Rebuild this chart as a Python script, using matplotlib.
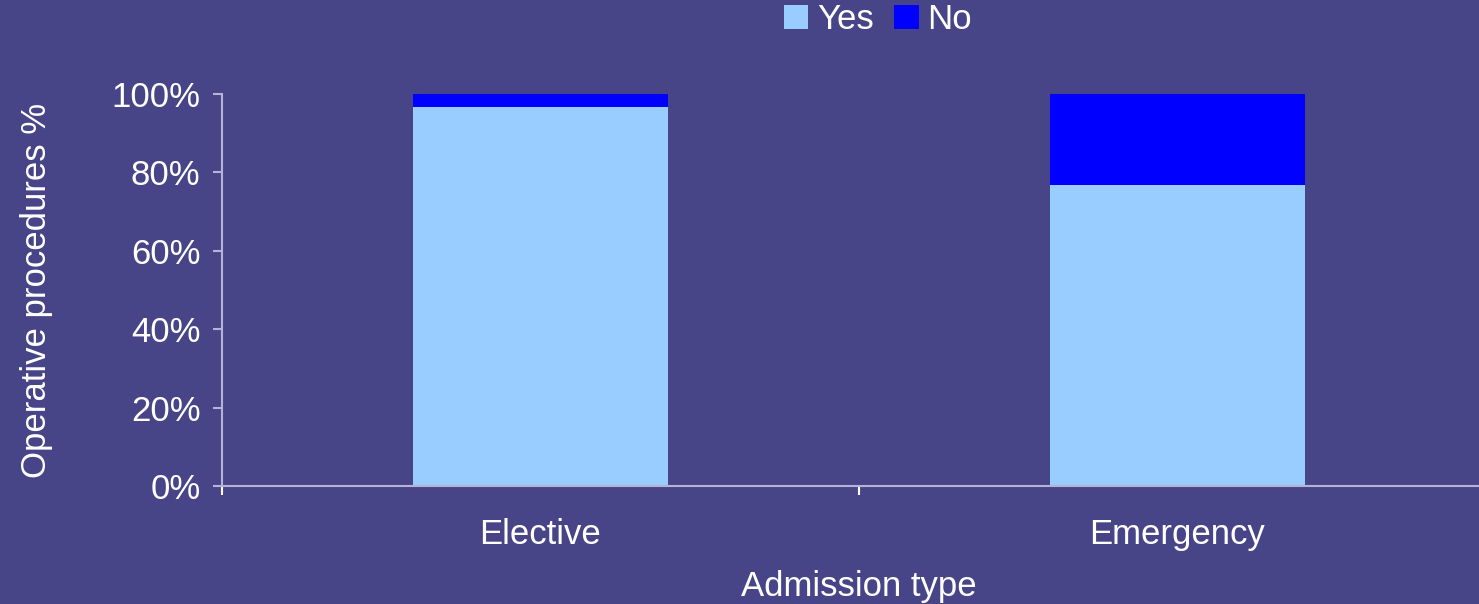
import numpy as np
import matplotlib
matplotlib.use("Agg")
from matplotlib import pyplot as plt

plt.rcParams['font.family'] = ['Liberation Sans', 'DejaVu Sans']

categories = ["Elective", "Emergency"]
yes_pct = [96.7, 76.8]
no_pct = [3.3, 23.2]

bg = "#474587"
axis_col = "#b4b4d8"
fs = 25

fig = plt.figure(figsize=(14.79, 6.04), dpi=100)
fig.patch.set_facecolor(bg)
# axes extends slightly past the right edge, as in the original
ax = fig.add_axes([222 / 1479, (604 - 486) / 604, (1496 - 222) / 1479, (486 - 94) / 604])
ax.set_facecolor(bg)

x = np.arange(len(categories))
ax.bar(x, yes_pct, width=0.4, color="#99ccff", label="Yes")
ax.bar(x, no_pct, width=0.4, bottom=yes_pct, color="#0000ff", label="No")

ax.set_xlim(-0.5, 1.5)
ax.set_ylim(0, 100)
ax.set_yticks([0, 20, 40, 60, 80, 100])
ax.set_yticklabels([f"{v}%" for v in [0, 20, 40, 60, 80, 100]])
ax.set_xticks([-0.5, 0.5, 1.5])
ax.set_xticklabels(["", "", ""])
ax.set_xticks(x, minor=True)
ax.set_xticklabels(categories, minor=True)
ax.tick_params(axis="x", which="minor", length=0, pad=23, labelsize=fs, colors="white")
ax.tick_params(axis="x", which="major", length=6.5, color="white", width=1.5)
ax.tick_params(axis="y", length=6.5, color=axis_col, width=1.5, labelsize=fs, labelcolor="white", pad=9)

for s in ["top", "right"]:
    ax.spines[s].set_visible(False)
for s in ["left", "bottom"]:
    ax.spines[s].set_color(axis_col)
    ax.spines[s].set_linewidth(1.5)

ax.set_xlabel("Admission type", color="white", fontsize=fs, labelpad=14)
ax.set_ylabel("Operative procedures %", color="white", fontsize=fs, labelpad=42)

leg = ax.legend(loc="upper center", bbox_to_anchor=(878 / 1479, 1.0), bbox_transform=fig.transFigure,
                ncol=2, frameon=False, fontsize=fs, labelcolor="white",
                handlelength=0.7, handleheight=0.7, handletextpad=0.25, columnspacing=0.6,
                borderaxespad=0.0, borderpad=0.1)

fig.savefig("out.png", dpi=100, facecolor=bg)
